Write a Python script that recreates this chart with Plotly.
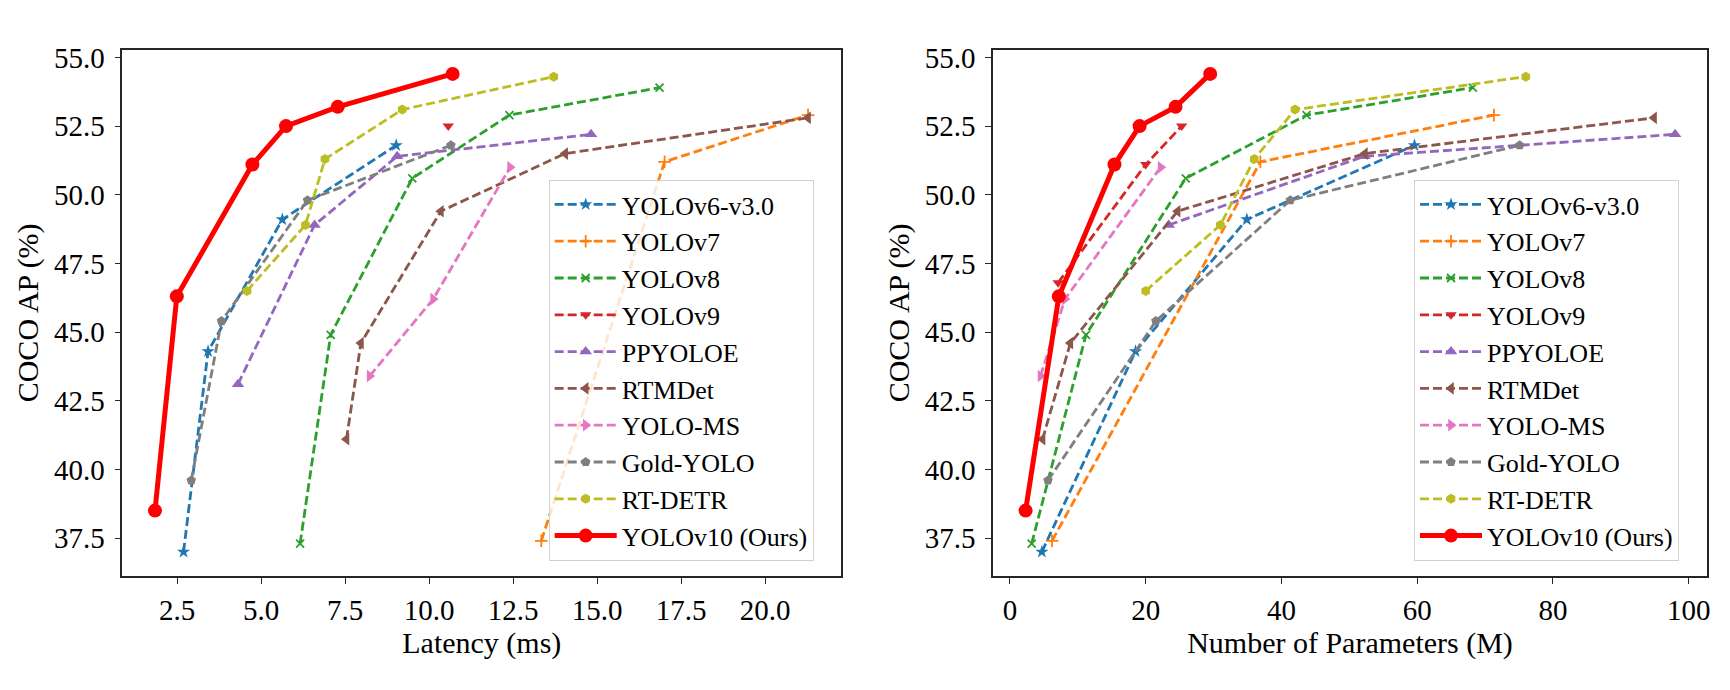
import plotly.graph_objects as go

# ---------------- data ----------------
series_names = ["YOLOv6-v3.0", "YOLOv7", "YOLOv8", "YOLOv9", "PPYOLOE",
                "RTMDet", "YOLO-MS", "Gold-YOLO", "RT-DETR", "YOLOv10 (Ours)"]

# latency (ms) vs AP
lat_yolov6 = [2.69, 3.42, 5.63, 9.02]
ap_lat_yolov6 = [37.0, 44.3, 49.1, 51.8]
lat_yolov7 = [13.34, 17.01, 21.28]
ap_lat_yolov7 = [37.4, 51.2, 52.9]
lat_yolov8 = [6.16, 7.07, 9.50, 12.39, 16.86]
ap_lat_yolov8 = [37.3, 44.9, 50.6, 52.9, 53.9]
lat_yolov9 = [10.57]
ap_lat_yolov9 = [52.5]
lat_ppyoloe = [4.31, 6.59, 9.05, 14.82]
ap_lat_ppyoloe = [43.1, 48.9, 51.4, 52.2]
lat_rtmdet = [7.54, 7.97, 10.35, 14.05, 21.28]
ap_lat_rtmdet = [41.1, 44.6, 49.4, 51.5, 52.8]
lat_yoloms = [8.23, 10.12, 12.41]
ap_lat_yoloms = [43.4, 46.2, 51.0]
lat_goldyolo = [2.92, 3.82, 6.38, 10.65]
ap_lat_goldyolo = [39.6, 45.4, 49.8, 51.8]
lat_rtdetr = [4.58, 6.32, 6.90, 9.20, 13.71]
ap_lat_rtdetr = [46.5, 48.9, 51.3, 53.1, 54.3]
lat_yolov10 = [1.84, 2.49, 4.74, 5.74, 7.28, 10.70]
ap_lat_yolov10 = [38.5, 46.3, 51.1, 52.5, 53.2, 54.4]

# params (M) vs AP
par_yolov6 = [4.7, 18.5, 34.9, 59.6]
ap_par_yolov6 = [37.0, 44.3, 49.1, 51.8]
par_yolov7 = [6.2, 36.9, 71.3]
ap_par_yolov7 = [37.4, 51.2, 52.9]
par_yolov8 = [3.2, 11.2, 25.9, 43.7, 68.2]
ap_par_yolov8 = [37.3, 44.9, 50.6, 52.9, 53.9]
par_yolov9 = [7.1, 20.0, 25.3]
ap_par_yolov9 = [46.8, 51.1, 52.5]
par_ppyoloe = [23.4, 52.2, 98.0]
ap_par_ppyoloe = [48.9, 51.4, 52.2]
par_rtmdet = [4.8, 8.9, 24.7, 52.3, 94.9]
ap_par_rtmdet = [41.1, 44.6, 49.4, 51.5, 52.8]
par_yoloms = [4.5, 8.1, 22.2]
ap_par_yoloms = [43.4, 46.2, 51.0]
par_goldyolo = [5.6, 21.5, 41.3, 75.1]
ap_par_goldyolo = [39.6, 45.4, 49.8, 51.8]
par_rtdetr = [20.0, 31.0, 36.0, 42.0, 76.0]
ap_par_rtdetr = [46.5, 48.9, 51.3, 53.1, 54.3]
par_yolov10 = [2.3, 7.2, 15.4, 19.1, 24.4, 29.5]
ap_par_yolov10 = [38.5, 46.3, 51.1, 52.5, 53.2, 54.4]

lat_series = [(lat_yolov6, ap_lat_yolov6), (lat_yolov7, ap_lat_yolov7), (lat_yolov8, ap_lat_yolov8),
              (lat_yolov9, ap_lat_yolov9), (lat_ppyoloe, ap_lat_ppyoloe), (lat_rtmdet, ap_lat_rtmdet),
              (lat_yoloms, ap_lat_yoloms), (lat_goldyolo, ap_lat_goldyolo), (lat_rtdetr, ap_lat_rtdetr),
              (lat_yolov10, ap_lat_yolov10)]
par_series = [(par_yolov6, ap_par_yolov6), (par_yolov7, ap_par_yolov7), (par_yolov8, ap_par_yolov8),
              (par_yolov9, ap_par_yolov9), (par_ppyoloe, ap_par_ppyoloe), (par_rtmdet, ap_par_rtmdet),
              (par_yoloms, ap_par_yoloms), (par_goldyolo, ap_par_goldyolo), (par_rtdetr, ap_par_rtdetr),
              (par_yolov10, ap_par_yolov10)]

# ---------------- styles ----------------
colors = ["#1f77b4", "#ff7f0e", "#2ca02c", "#d62728", "#9467bd",
          "#8c564b", "#e377c2", "#7f7f7f", "#bcbd22", "#ff0000"]
symbols = ["star", "cross-thin", "x-thin", "triangle-down", "triangle-up",
           "triangle-left", "triangle-right", "pentagon", "hexagon", "circle"]
msizes = [10, 9, 8, 10, 11, 11, 11, 10, 10, 14]

FONT = "Liberation Serif"

fig = go.Figure()

for panel, (series, xa, ya, leg) in enumerate([(lat_series, "x", "y", "legend"),
                                               (par_series, "x2", "y2", "legend2")]):
    for i, (xs, ys) in enumerate(series):
        ours = (i == 9)
        fig.add_trace(go.Scatter(
            x=xs, y=ys, name=series_names[i], mode="lines+markers",
            xaxis=xa, yaxis=ya, legend=leg,
            line=dict(color=colors[i], width=5 if ours else 2.8,
                      dash="solid" if ours else "9px,4px"),
            marker=dict(symbol=symbols[i], size=msizes[i], color=colors[i],
                        line=dict(width=1.8 if symbols[i].endswith("thin") else 0,
                                  color=colors[i])),
        ))

axis_common = dict(
    showline=True, mirror=True, linecolor="#262626", linewidth=1.6,
    ticks="outside", ticklen=6, tickwidth=1.4, tickcolor="#262626",
    showgrid=False, zeroline=False, automargin=False,
    tickfont=dict(family=FONT, size=29, color="black"),
)

H = 690.0
W = 1730.0
ydom = [1 - 567.7 / H, 1 - 42 / H]

fig.update_layout(
    width=1730, height=690,
    margin=dict(l=0, r=0, t=0, b=0, pad=0, autoexpand=False),
    paper_bgcolor="white", plot_bgcolor="white",
    font=dict(family=FONT, size=26, color="black"),
    xaxis=dict(domain=[114.3 / W, 833.3 / W], range=[0.867, 22.27],
               tick0=0, dtick=2.5, tickformat=".1f", ticklabelstandoff=2,
               title=dict(text="Latency (ms)", font=dict(family=FONT, size=30), standoff=6),
               anchor="y", **axis_common),
    yaxis=dict(domain=ydom, range=[36.13, 55.27], tick0=0, dtick=2.5, tickformat=".1f",
               ticklabelstandoff=4,
               title=dict(text="COCO AP (%)", font=dict(family=FONT, size=30), standoff=6),
               anchor="x", **axis_common),
    xaxis2=dict(domain=[985 / W, 1699 / W], range=[-2.5, 102.7],
                tick0=0, dtick=20, ticklabelstandoff=2,
                title=dict(text="Number of Parameters (M)", font=dict(family=FONT, size=30), standoff=6),
                anchor="y2", **axis_common),
    yaxis2=dict(domain=ydom, range=[36.13, 55.27], tick0=0, dtick=2.5, tickformat=".1f",
                ticklabelstandoff=4,
                title=dict(text="COCO AP (%)", font=dict(family=FONT, size=30), standoff=6),
                anchor="x2", **axis_common),
    legend=dict(x=540.7 / W, y=1 - 172 / H, xanchor="left", yanchor="top",
                bgcolor="rgba(255,255,255,0.8)", bordercolor="#d0d0d0", borderwidth=1,
                font=dict(family=FONT, size=26), itemwidth=62),
    legend2=dict(x=1406 / W, y=1 - 172 / H, xanchor="left", yanchor="top",
                 bgcolor="rgba(255,255,255,0.8)", bordercolor="#d0d0d0", borderwidth=1,
                 font=dict(family=FONT, size=26), itemwidth=62),
    showlegend=True,
)

fig.write_html("out.html")
